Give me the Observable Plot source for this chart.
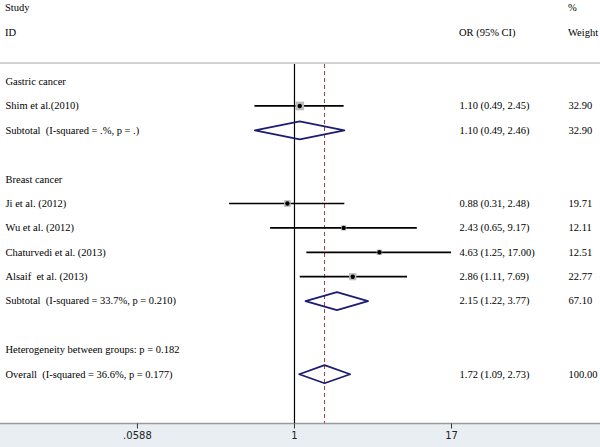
<!DOCTYPE html>
<html>
<head>
<meta charset="utf-8">
<script src="https://cdn.jsdelivr.net/npm/d3@7"></script>
<script src="https://cdn.jsdelivr.net/npm/@observablehq/plot@0.6"></script>
<style>
  html, body { margin: 0; padding: 0; background: #fff; }
  #wrap { width: 600px; position: relative; font-family: "Liberation Serif", "DejaVu Serif", serif; font-size: 10.5px; color: #000; }
  #head { position: relative; height: 62px; border-bottom: 2px solid #d2d2d2; }
  #head span { position: absolute; line-height: 12px; }
  svg { display: block; }
</style>
</head>
<body>
<div id="wrap">
  <div id="head"></div>
  <div id="chart"></div>
</div>
<script>
// ---- data ----
const headerTop = ["Study", "", "%"];
const headerBottom = ["ID", "OR (95% CI)", "Weight"];

const rowLabels = [
  "Gastric cancer",
  "Shim et al.(2010)",
  "Subtotal  (I-squared = .%, p = .)",
  "",
  "Breast cancer",
  "Ji et al. (2012)",
  "Wu et al. (2012)",
  "Chaturvedi et al. (2013)",
  "Alsaif  et al. (2013)",
  "Subtotal  (I-squared = 33.7%, p = 0.210)",
  "",
  "Heterogeneity between groups: p = 0.182",
  "Overall  (I-squared = 36.6%, p = 0.177)"
];

const studies = ["Shim et al.(2010)", "Ji et al. (2012)", "Wu et al. (2012)", "Chaturvedi et al. (2013)", "Alsaif  et al. (2013)"];
const studyOR = [1.10, 0.88, 2.43, 4.63, 2.86];
const studyLo = [0.49, 0.31, 0.65, 1.25, 1.11];
const studyHi = [2.45, 2.48, 9.17, 17.00, 7.69];
const studyWeight = [32.90, 19.71, 12.11, 12.51, 22.77];

const summaries = ["Subtotal  (I-squared = .%, p = .)", "Subtotal  (I-squared = 33.7%, p = 0.210)", "Overall  (I-squared = 36.6%, p = 0.177)"];
const summaryOR = [1.10, 2.15, 1.72];
const summaryLo = [0.49, 1.22, 1.09];
const summaryHi = [2.46, 3.77, 2.73];
const summaryWeight = [32.90, 67.10, 100.00];

const xTicks = [0.0588, 1, 17];
const xTickLabels = [".0588", "1", "17"];

// ---- header (HTML above the svg) ----
const head = document.getElementById("head");
const cols = [5, 459, 568];
headerTop.forEach((t, i) => {
  if (!t) return;
  const s = document.createElement("span");
  s.textContent = t; s.style.left = cols[i] + "px"; s.style.top = "2px";
  head.appendChild(s);
});
headerBottom.forEach((t, i) => {
  const s = document.createElement("span");
  s.textContent = t; s.style.left = cols[i] + "px"; s.style.top = "27px";
  head.appendChild(s);
});

// ---- tables for marks ----
const rowIndex = new Map(rowLabels.map((l, i) => [l, i]).filter(d => d[0]));
const labelRows = rowLabels.map((label, i) => ({label, row: i})).filter(d => d.label);

const fmt = d3.format(".2f");
const studyData = studies.map((s, i) => ({
  label: s, row: rowIndex.get(s), or: studyOR[i], lo: studyLo[i], hi: studyHi[i], w: studyWeight[i],
  ci: `${fmt(studyOR[i])} (${fmt(studyLo[i])}, ${fmt(studyHi[i])})`, wt: fmt(studyWeight[i])
}));
const summaryData = summaries.map((s, i) => ({
  label: s, row: rowIndex.get(s), or: summaryOR[i], lo: summaryLo[i], hi: summaryHi[i], w: summaryWeight[i],
  ci: `${fmt(summaryOR[i])} (${fmt(summaryLo[i])}, ${fmt(summaryHi[i])})`, wt: fmt(summaryWeight[i])
}));
const halfH = 0.37;
const diamondPts = summaryData.flatMap(d => [
  {id: d.label, x: d.lo, y: d.row},
  {id: d.label, x: d.or, y: d.row - halfH},
  {id: d.label, x: d.hi, y: d.row},
  {id: d.label, x: d.or, y: d.row + halfH},
  {id: d.label, x: d.lo, y: d.row}
]);
const overall = summaryData[summaryData.length - 1];
const numericRows = [...studyData, ...summaryData];
const tickData = xTicks.map((t, i) => ({x: t, label: xTickLabels[i]}));

// short vertical tick symbol hanging below the axis line
const tickSymbol = {draw(ctx) { ctx.moveTo(0, 0); ctx.lineTo(0, 5); }};

const serif = "Liberation Serif, DejaVu Serif, serif";

const chart = Plot.plot({
  width: 600,
  height: 383,
  marginLeft: 0,
  marginRight: 0,
  marginTop: 0,
  marginBottom: 24,
  style: {background: "linear-gradient(to bottom, #ffffff 359px, #e8eef2 359px)", overflow: "visible"},
  x: {type: "log", domain: [0.00497, 250], range: [0, 600], axis: null},
  y: {domain: [-0.7, 14.02], reverse: true, axis: null},
  r: {type: "sqrt", domain: [0, 32.9], range: [0, 4.9]},
  marks: [
    Plot.frame({anchor: "bottom", stroke: "#9a9a9a", strokeWidth: 1.5}),
    Plot.ruleX([1], {stroke: "#000", strokeWidth: 1.2}),
    Plot.ruleX([overall], {x: "or", stroke: "#a33a48", strokeWidth: 1, strokeDasharray: "4,3"}),
    Plot.ruleY(studyData, {y: "row", x1: "lo", x2: "hi", stroke: "#000", strokeWidth: 1.7}),
    Plot.dot(studyData, {x: "or", y: "row", r: "w", symbol: "square", fill: "#bcbcbc", stroke: "none"}),
    Plot.dot(studyData, {x: "or", y: "row", r: 2.2, fill: "#000", stroke: "none"}),
    Plot.line(diamondPts, {x: "x", y: "y", z: "id", stroke: "#1c1c72", strokeWidth: 1.8, curve: "linear"}),
    Plot.text(labelRows, {y: "row", text: "label", frameAnchor: "left", dx: 5, textAnchor: "start", fontFamily: serif, fontSize: 10.5, fill: "#000"}),
    Plot.text(numericRows, {y: "row", text: "ci", frameAnchor: "left", dx: 459, textAnchor: "start", fontFamily: serif, fontSize: 10.5, fill: "#000"}),
    Plot.text(numericRows, {y: "row", text: "wt", frameAnchor: "left", dx: 568, textAnchor: "start", fontFamily: serif, fontSize: 10.5, fill: "#000"}),
    Plot.dot(tickData, {x: "x", frameAnchor: "bottom", symbol: tickSymbol, r: 3, fill: "none", stroke: "#333", strokeWidth: 1}),
    Plot.text(tickData, {x: "x", text: "label", frameAnchor: "bottom", dy: 15, fill: "#222", fontSize: 10, fontFamily: "DejaVu Sans, sans-serif"})
  ]
});
document.getElementById("chart").appendChild(chart);
</script>
</body>
</html>
